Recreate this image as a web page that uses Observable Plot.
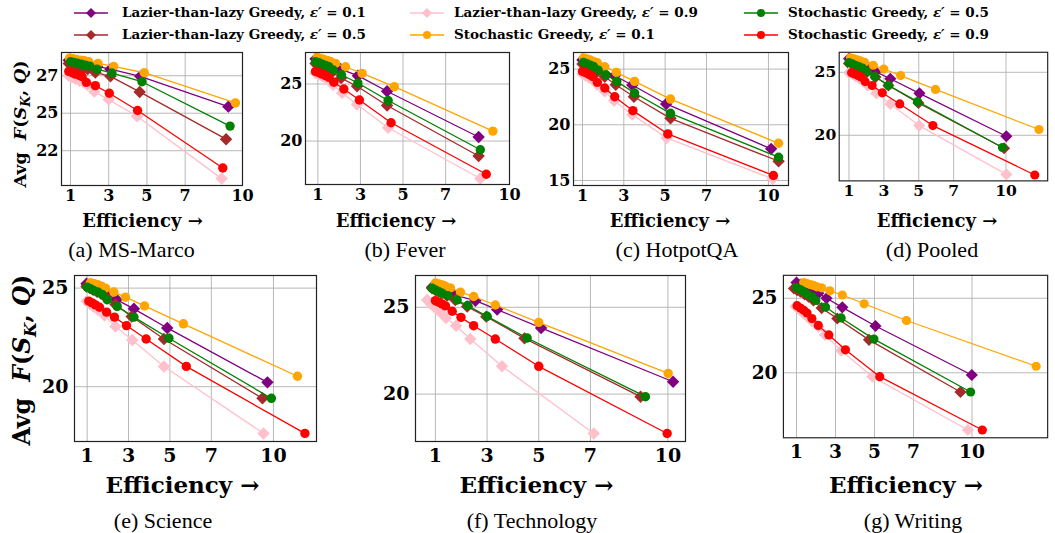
<!DOCTYPE html>
<html><head><meta charset="utf-8">
<script src="https://cdn.jsdelivr.net/npm/d3@7"></script>
<script src="https://cdn.jsdelivr.net/npm/@observablehq/plot@0.6"></script>
<style>
html,body{margin:0;padding:0;background:#fff;overflow:hidden}
#root{position:relative;width:1055px;height:533px;overflow:hidden}
.abs{position:absolute;white-space:nowrap;line-height:1}
.c{transform:translate(-50%,-50%)}
.xl{font-family:"DejaVu Serif";font-weight:bold;color:#000}
.cap{font-family:"Liberation Serif";color:#000}
.yl{font-family:"DejaVu Serif";font-weight:bold;color:#000;transform:translate(-50%,-50%) rotate(-90deg)}
.leg{font-family:"DejaVu Serif";font-weight:bold;font-size:13.5px;color:#000;transform:translateY(-50%)}
.leg i{font-weight:bold}
</style></head>
<body><div id="root"></div>
<script>
// ---------- legend / series ----------
const seriesNames = [
  "Lazier-than-lazy Greedy, ε′ = 0.1",
  "Lazier-than-lazy Greedy, ε′ = 0.5",
  "Lazier-than-lazy Greedy, ε′ = 0.9",
  "Stochastic Greedy, ε′ = 0.1",
  "Stochastic Greedy, ε′ = 0.5",
  "Stochastic Greedy, ε′ = 0.9"
];
const seriesColors = ["#800080", "#a52a2a", "#ffc0cb", "#ffa500", "#008000", "#ff0000"];
const seriesSymbols = ["diamond2", "diamond2", "diamond2", "circle", "circle", "circle"];
const xTicks = [1, 3, 5, 7, 10];
const panelLabels = ["(a) MS-Marco", "(b) Fever", "(c) HotpotQA", "(d) Pooled", "(e) Science", "(f) Technology", "(g) Writing"];

// ---------- (a) MS-Marco ----------
const msMarcoYTicks = [27.2, 24.7, 22.2];
const msMarcoYLabels = ["27", "25", "22"];
const msMarcoLtL01 = [[0.91,28.24],[1.09,28.17],[1.26,28.11],[1.47,28.04],[1.70,27.97],[1.96,27.91],[2.39,27.82],[3.09,27.64],[4.65,27.16],[9.26,25.14]];
const msMarcoLtL05 = [[0.91,28.02],[1.09,27.95],[1.26,27.89],[1.49,27.82],[1.70,27.73],[1.90,27.64],[2.30,27.42],[3.09,27.16],[4.62,26.12],[9.14,22.97]];
const msMarcoLtL09 = [[0.91,27.20],[1.09,27.09],[1.26,26.98],[1.47,26.87],[1.70,26.74],[1.90,26.58],[2.25,26.14],[3.00,25.61],[4.48,24.50],[8.91,20.34]];
const msMarcoSG01 = [[0.95,28.37],[1.14,28.33],[1.31,28.28],[1.52,28.24],[1.73,28.20],[1.96,28.13],[2.44,28.02],[3.26,27.82],[4.86,27.40],[9.63,25.39]];
const msMarcoSG05 = [[1.00,28.13],[1.17,28.08],[1.35,28.04],[1.56,27.97],[1.78,27.91],[2.01,27.84],[2.39,27.64],[3.17,27.38],[4.74,26.80],[9.35,23.84]];
const msMarcoSG09 = [[0.91,27.49],[1.09,27.40],[1.26,27.31],[1.47,27.22],[1.61,27.13],[1.83,26.76],[2.30,26.54],[3.03,26.03],[4.51,24.88],[8.97,21.05]];

// ---------- (b) Fever ----------
const feverYTicks = [25, 20];
const feverLtL01 = [[0.89,27.18],[1.05,27.09],[1.20,26.98],[1.36,26.86],[1.52,26.74],[1.67,26.60],[2.06,26.31],[2.88,25.73],[4.25,24.36],[8.55,20.35]];
const feverLtL05 = [[0.89,26.80],[1.05,26.69],[1.20,26.57],[1.36,26.45],[1.52,26.31],[1.67,26.02],[2.09,25.52],[2.84,24.80],[4.25,23.11],[8.55,18.69]];
const feverLtL09 = [[0.89,25.93],[1.05,25.81],[1.20,25.67],[1.36,25.52],[1.52,25.35],[1.72,24.91],[2.14,24.22],[2.84,23.20],[4.30,21.16],[8.63,16.72]];
const feverSG01 = [[0.97,27.33],[1.13,27.24],[1.28,27.15],[1.44,27.06],[1.59,26.98],[1.83,26.80],[2.30,26.51],[3.08,25.93],[4.59,24.77],[9.22,20.87]];
const feverSG05 = [[0.89,26.95],[1.05,26.86],[1.20,26.74],[1.36,26.63],[1.52,26.51],[1.72,26.22],[2.11,25.81],[2.88,25.09],[4.30,23.55],[8.63,19.24]];
const feverSG09 = [[0.89,26.10],[1.05,25.99],[1.20,25.87],[1.36,25.73],[1.52,25.58],[1.75,25.15],[2.22,24.56],[2.95,23.60],[4.44,21.60],[8.91,17.09]];

// ---------- (c) HotpotQA ----------
const hotpotYTicks = [25, 20, 15];
const hotpotLtL01 = [[1.00,25.81],[1.16,25.69],[1.32,25.57],[1.48,25.45],[1.64,25.33],[1.96,25.00],[2.56,24.40],[3.41,23.57],[5.05,21.87],[10.13,17.84]];
const hotpotLtL05 = [[1.00,25.45],[1.16,25.33],[1.32,25.21],[1.48,25.06],[1.72,24.76],[2.08,24.31],[2.61,23.60],[3.49,22.52],[5.26,20.58],[10.49,16.73]];
const hotpotLtL09 = [[1.00,24.55],[1.16,24.40],[1.32,24.25],[1.48,24.07],[1.72,23.60],[2.08,23.00],[2.53,22.16],[3.41,20.91],[5.07,18.82],[10.21,15.15]];
const hotpotSG01 = [[1.05,25.99],[1.21,25.90],[1.37,25.81],[1.53,25.69],[1.72,25.57],[2.08,25.21],[2.64,24.70],[3.52,23.90],[5.26,22.31],[10.49,18.34]];
const hotpotSG05 = [[1.05,25.60],[1.21,25.48],[1.37,25.36],[1.53,25.24],[1.76,24.91],[2.13,24.49],[2.66,23.90],[3.52,22.85],[5.26,21.03],[10.49,17.09]];
const hotpotSG09 = [[1.00,24.79],[1.16,24.67],[1.32,24.52],[1.48,24.34],[1.72,23.81],[2.08,23.30],[2.56,22.52],[3.44,21.27],[5.13,19.18],[10.24,15.45]];

// ---------- (d) Pooled ----------
const pooledYTicks = [25, 20];
const pooledLtL01 = [[1.00,26.08],[1.19,25.95],[1.37,25.82],[1.59,25.69],[1.83,25.54],[2.11,25.38],[2.52,25.05],[3.37,24.49],[5.04,23.33],[10.02,19.92]];
const pooledLtL05 = [[1.00,25.69],[1.19,25.59],[1.37,25.49],[1.56,25.38],[1.78,25.23],[2.02,25.00],[2.52,24.62],[3.26,23.95],[4.98,22.56],[9.89,18.97]];
const pooledLtL09 = [[1.00,24.97],[1.19,24.85],[1.37,24.69],[1.59,24.51],[1.83,24.28],[2.07,23.95],[2.57,23.33],[3.37,22.49],[5.02,20.77],[10.02,16.90]];
const pooledSG01 = [[1.09,26.15],[1.28,26.08],[1.46,26.00],[1.65,25.92],[1.89,25.79],[2.39,25.56],[3.00,25.26],[3.96,24.74],[5.96,23.64],[11.89,20.46]];
const pooledSG05 = [[1.00,25.77],[1.19,25.67],[1.37,25.56],[1.56,25.46],[1.78,25.33],[2.02,25.05],[2.48,24.67],[3.26,23.97],[4.93,22.67],[9.80,19.03]];
const pooledSG09 = [[1.15,24.97],[1.33,24.87],[1.52,24.74],[1.70,24.62],[1.93,24.26],[2.33,23.95],[2.91,23.38],[3.91,22.49],[5.81,20.77],[11.65,16.85]];

// ---------- (e) Science ----------
const scienceYTicks = [25, 20];
const scienceLtL01 = [[0.97,25.22],[1.13,25.14],[1.29,25.05],[1.48,24.97],[1.68,24.88],[1.94,24.71],[2.42,24.42],[3.26,23.95],[4.87,22.98],[9.71,20.22]];
const scienceLtL05 = [[0.97,25.08],[1.13,25.00],[1.29,24.92],[1.48,24.81],[1.68,24.71],[1.94,24.49],[2.37,24.17],[3.15,23.56],[4.71,22.42],[9.47,19.41]];
const scienceLtL09 = [[0.97,24.34],[1.13,24.20],[1.29,24.07],[1.52,23.90],[1.84,23.61],[2.37,23.05],[3.18,22.37],[4.71,21.02],[9.52,17.63]];
const scienceSG01 = [[1.16,25.27],[1.35,25.22],[1.52,25.17],[1.69,25.10],[1.89,25.00],[2.29,24.80],[2.85,24.54],[3.77,24.10],[5.65,23.19],[11.16,20.53]];
const scienceSG05 = [[1.00,25.05],[1.16,24.97],[1.32,24.88],[1.52,24.80],[1.73,24.68],[1.97,24.41],[2.45,24.07],[3.26,23.53],[4.95,22.46],[9.90,19.41]];
const scienceSG09 = [[1.08,24.34],[1.24,24.25],[1.40,24.15],[1.60,24.03],[1.94,23.78],[2.32,23.53],[2.90,23.10],[3.85,22.42],[5.79,21.03],[11.52,17.63]];

// ---------- (f) Technology ----------
const techYTicks = [25, 20];
const techLtL01 = [[0.87,26.15],[1.00,26.10],[1.13,26.04],[1.26,25.96],[1.39,25.88],[1.71,25.71],[2.55,25.38],[3.39,24.87],[5.09,23.81],[10.20,20.71]];
const techLtL05 = [[0.87,26.10],[1.00,26.00],[1.13,25.90],[1.26,25.81],[1.45,25.67],[1.77,25.42],[2.23,25.04],[2.97,24.46],[4.45,23.21],[8.94,19.85]];
const techLtL09 = [[0.68,25.42],[0.83,25.19],[1.00,24.96],[1.19,24.71],[1.41,24.38],[1.80,23.94],[2.35,23.17],[3.58,21.60],[7.13,17.73]];
const techSG01 = [[1.00,26.40],[1.13,26.35],[1.26,26.29],[1.39,26.21],[1.58,26.12],[1.97,25.87],[2.48,25.62],[3.32,25.13],[5.00,24.13],[10.01,21.19]];
const techSG05 = [[0.87,26.10],[1.00,26.00],[1.13,25.90],[1.26,25.81],[1.48,25.67],[1.84,25.42],[2.25,25.10],[3.00,24.48],[4.55,23.23],[9.13,19.85]];
const techSG09 = [[1.00,25.38],[1.13,25.29],[1.26,25.19],[1.39,25.08],[1.65,24.77],[1.99,24.42],[2.48,23.94],[3.32,23.17],[5.00,21.60],[9.97,17.73]];

// ---------- (g) Writing ----------
const writingYTicks = [25, 20];
const writingLtL01 = [[1.00,26.05],[1.20,25.92],[1.37,25.77],[1.54,25.61],[1.79,25.48],[2.12,25.33],[2.54,25.00],[3.35,24.39],[5.05,23.14],[9.99,19.85]];
const writingLtL05 = [[0.87,25.66],[1.03,25.55],[1.20,25.44],[1.42,25.26],[1.62,25.11],[1.87,24.85],[2.29,24.34],[3.09,23.64],[4.72,22.21],[9.41,18.71]];
const writingLtL09 = [[0.95,24.45],[1.15,24.23],[1.34,24.01],[1.54,23.79],[1.79,23.46],[2.12,23.09],[2.46,22.54],[3.29,21.49],[4.89,19.74],[9.79,16.16]];
const writingSG01 = [[1.37,26.05],[1.54,25.99],[1.70,25.92],[1.87,25.86],[2.04,25.77],[2.29,25.70],[2.71,25.50],[3.35,25.22],[4.47,24.63],[6.64,23.51],[13.29,20.44]];
const writingSG05 = [[1.00,25.72],[1.20,25.59],[1.37,25.44],[1.54,25.29],[1.79,25.11],[1.99,24.85],[2.49,24.41],[3.29,23.68],[4.97,22.26],[9.93,18.71]];
const writingSG09 = [[1.03,24.50],[1.20,24.34],[1.37,24.19],[1.54,24.01],[1.79,23.64],[2.12,23.18],[2.66,22.54],[3.51,21.54],[5.27,19.74],[10.53,16.16]];

// ---------- layout ----------
const panels = [
  {frame:[61,52,242,185],  xd:[0.53,10],    yd:[19.88,28.75], yt:msMarcoYTicks, yl:msMarcoYLabels, s:[msMarcoLtL01,msMarcoLtL05,msMarcoLtL09,msMarcoSG01,msMarcoSG05,msMarcoSG09], row:0, ex:142.5, cx:131.5},
  {frame:[305,52,509,184], xd:[0.42,10],    yd:[16.19,27.76], yt:feverYTicks, s:[feverLtL01,feverLtL05,feverLtL09,feverSG01,feverSG05,feverSG09], row:0, ex:396, cx:405},
  {frame:[573,52,788,185], xd:[0.566,10.97],yd:[14.55,26.49], yt:hotpotYTicks, s:[hotpotLtL01,hotpotLtL05,hotpotLtL09,hotpotSG01,hotpotSG05,hotpotSG09], row:0, ex:670, cx:677},
  {frame:[840,52,1054,184],xd:[0.44,12.39], yd:[16.38,26.59], yt:pooledYTicks, s:[pooledLtL01,pooledLtL05,pooledLtL09,pooledSG01,pooledSG05,pooledSG09], row:0, ex:937, cx:932},
  {frame:[74,275,316,441], xd:[0.39,12.08], yd:[17.22,25.64], yt:scienceYTicks, s:[scienceLtL01,scienceLtL05,scienceLtL09,scienceSG01,scienceSG05,scienceSG09], row:1, ex:182.5, cx:163},
  {frame:[415,275,685,441],xd:[0.23,10.68], yd:[17.27,26.83], yt:techYTicks, s:[techLtL01,techLtL05,techLtL09,techSG01,techSG05,techSG09], row:1, ex:536.5, cx:532},
  {frame:[784,275,1054,441],xd:[0.33,13.88],yd:[15.64,26.54], yt:writingYTicks, s:[writingLtL01,writingLtL05,writingLtL09,writingSG01,writingSG05,writingSG09], row:1, ex:906, cx:913}
];

const root = document.getElementById("root");
function addDiv(html, cls, left, top, style) {
  const d = document.createElement("div");
  d.className = "abs " + cls;
  d.style.left = left + "px"; d.style.top = top + "px";
  if (style) Object.assign(d.style, style);
  d.innerHTML = html;
  root.appendChild(d);
  return d;
}

const ML = 50, MR = 8, MT = 8, MB = 32;
panels.forEach((p, k) => {
  const [L, T, R, B] = p.frame;
  const fs = p.row === 0 ? 16 : 19;
  const padY = p.row === 0 ? 3 : 6;
  const padX = p.row === 0 ? 4 : 7;
  const marks = [
    Plot.gridX(xTicks, {stroke: "#b0b0b0", strokeOpacity: 1, strokeWidth: 0.9}),
    Plot.gridY(p.yt, {stroke: "#b0b0b0", strokeOpacity: 1, strokeWidth: 0.9})
  ];
  p.s.forEach((arr, i) => {
    const isD = seriesSymbols[i] === "diamond2";
    marks.push(Plot.line(arr, {x: d => d[0], y: d => d[1], stroke: seriesColors[i], strokeWidth: 1.3, clip: true}));
    marks.push(Plot.dot(arr, {x: d => d[0], y: d => d[1], fill: seriesColors[i], stroke: "none", symbol: seriesSymbols[i], r: isD ? 5.6 : 4.7, clip: true}));
  });
  marks.push(Plot.frame({stroke: "#222", strokeWidth: 1.2}));
  const yFmt = p.yl ? (v => p.yl[p.yt.indexOf(v)]) : (v => String(v));
  const svg = Plot.plot({
    width: R - L + ML + MR, height: B - T + MT + MB,
    marginLeft: ML, marginRight: MR, marginTop: MT, marginBottom: MB,
    x: {domain: p.xd, ticks: xTicks, tickSize: 0, tickPadding: padX, label: null},
    y: {domain: p.yd, ticks: p.yt, tickFormat: yFmt, tickSize: 0, tickPadding: padY, label: null},
    style: {fontFamily: "DejaVu Serif", fontWeight: "bold", fontSize: fs + "px", color: "#000", background: "transparent", overflow: "visible"},
    marks
  });
  const holder = document.createElement("div");
  holder.className = "abs";
  holder.style.left = (L - ML) + "px"; holder.style.top = (T - MT) + "px";
  holder.appendChild(svg);
  root.appendChild(holder);

  // x label and caption
  if (p.row === 0) {
    addDiv("Efficiency →", "xl c", p.ex, 220.7, {fontSize: "18px"});
    addDiv(panelLabels[k], "cap c", p.cx, 249.6, {fontSize: "22px"});
  } else {
    addDiv("Efficiency →", "xl c", p.ex, 484, {fontSize: "23px"});
    addDiv(panelLabels[k], "cap c", p.cx, 520.6, {fontSize: "22px"});
  }
});

// y labels
const yLabelHtml = "Avg&nbsp;&nbsp;<i>F</i>(<i>S</i><sub style='font-size:0.7em'><i>K</i></sub>, <i>Q</i>)";
addDiv(yLabelHtml, "yl", 22, 124, {fontSize: "17.5px"});
addDiv(yLabelHtml, "yl", 25, 360, {fontSize: "23.5px"});

// legend
const legCols = [{lx: 74, tx: 122}, {lx: 410, tx: 454}, {lx: 744, tx: 788}];
const legRows = [12.7, 35];
seriesNames.forEach((name, i) => {
  const col = legCols[Math.floor(i / 2)], rowY = legRows[i % 2];
  const isD = seriesSymbols[i] === "diamond2";
  const sym = isD
    ? `<path d="M17,2 L22,7 L17,12 L12,7Z" fill="${seriesColors[i]}"/>`
    : `<circle cx="17" cy="7" r="4" fill="${seriesColors[i]}"/>`;
  addDiv(`<svg width="34" height="14" style="display:block"><line x1="0" y1="7" x2="34" y2="7" stroke="${seriesColors[i]}" stroke-width="1.5"/>${sym}</svg>`,
    "", col.lx, rowY - 7);
  const txt = name.replace("ε′", "<i>ε′</i>");
  addDiv(txt, "leg", col.tx, rowY);
});
</script>
</body></html>
